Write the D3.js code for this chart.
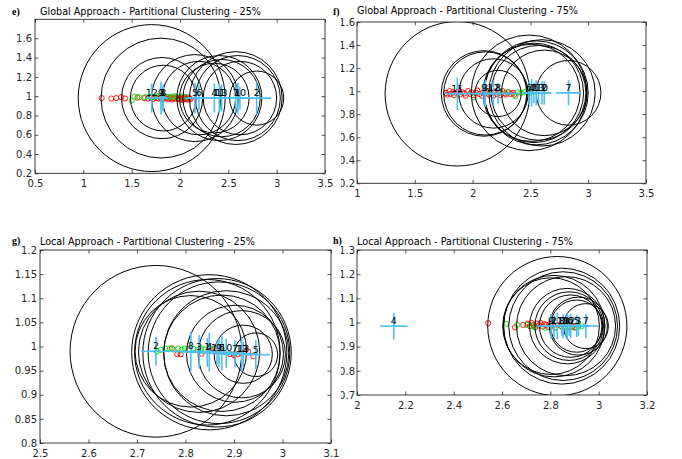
<!DOCTYPE html>
<html><head><meta charset="utf-8">
<script src="https://cdn.jsdelivr.net/npm/d3@7"></script>
<style>body{margin:0;background:#fff}</style>
</head><body>
<svg id="c" width="682" height="459"></svg>
<script>
// ---------- Panel e : Global Approach - 25% ----------
const eLabels = ["12","9","8","3","5","6","4","11","13","7","1","10","2"];
const eCx = [1.707,1.803,1.827,1.815,2.155,2.196,2.355,2.407,2.43,2.577,2.598,2.62,2.793];
const eCy = [0.98,0.98,0.98,0.98,0.98,0.98,0.98,0.98,0.98,0.98,0.98,0.98,0.98];
const eR  = [0.76,0.62,0.34,0.42,0.45,0.38,0.36,0.44,0.40,0.48,0.44,0.38,0.28];
const eEx = [0.06,0.05,0.05,0.04,0.10,0.10,0.12,0.10,0.10,0.12,0.12,0.10,0.15];
const eEy = [0.15,0.17,0.14,0.12,0.16,0.13,0.15,0.16,0.14,0.15,0.16,0.12,0.17];
const eRedX = [1.19,1.29,1.34,1.39,1.43,1.56,1.63,1.67,1.70,1.72,1.74,1.76,1.78,1.80,1.82,1.84,1.86,1.87,1.89,1.90,1.92,1.93,1.95,1.96,1.98,1.99,2.00,2.01,2.02,2.03,2.04,2.05,2.06,2.07,2.08,2.09,2.10,2.11];
const eRedY = [0.98,0.975,0.98,0.99,0.975,0.985,0.98,0.975,0.985,0.97,0.99,0.98,0.975,0.985,0.97,0.98,0.99,0.97,0.975,0.985,0.965,0.98,0.975,0.99,0.97,0.98,0.965,0.985,0.975,0.96,0.98,0.99,0.97,0.98,0.965,0.985,0.975,0.97];
const eGreenX = [1.50,1.53,1.58,1.64,1.69,1.73,1.77,1.79,1.83,1.88,1.91,1.94,1.97,2.02,2.06];
const eGreenY = [0.955,0.995,0.99,0.99,0.995,0.99,1.0,0.995,0.995,0.99,0.995,1.0,0.99,0.995,0.99];
const eXTicks = [0.5,1,1.5,2,2.5,3,3.5];
const eYTicks = [0.2,0.4,0.6,0.8,1,1.2,1.4,1.6];

// ---------- Panel f : Global Approach - 75% ----------
const fLabels = ["11","9","3","12","8","6","4","1","5","13","10","2","7"];
const fCx = [1.868,2.099,2.11,2.18,2.22,2.488,2.51,2.53,2.55,2.57,2.60,2.62,2.83];
const fCy = [0.977,0.98,0.98,0.98,0.98,0.985,0.985,0.985,0.985,0.985,0.985,0.985,0.985];
const fR  = [0.625,0.37,0.36,0.30,0.20,0.50,0.42,0.43,0.45,0.41,0.46,0.37,0.28];
const fEx = [0.10,0.31,0.12,0.15,0.12,0.05,0.07,0.08,0.10,0.09,0.08,0.06,0.11];
const fEy = [0.14,0.10,0.12,0.11,0.09,0.10,0.12,0.09,0.11,0.08,0.10,0.10,0.11];
const fRedX = [1.77,1.78,1.80,1.81,1.83,1.84,1.86,1.88,1.89,1.91,1.93,1.94,1.96,1.98,1.99,2.01,2.03,2.04,2.06,2.08,2.09,2.11,2.13,2.14,2.16,2.18,2.19,2.21,2.23,2.24,2.26,2.28,2.29,2.31,2.33,2.35,2.36];
const fRedY = [0.985,0.97,1.0,0.975,0.99,0.965,0.985,1.005,0.97,0.99,0.98,0.96,1.0,0.975,0.99,0.965,0.985,1.005,0.975,0.96,0.99,0.98,1.0,0.97,0.985,0.96,0.995,0.975,0.985,0.965,1.0,0.98,0.97,0.99,0.975,0.985,0.97];
const fGreenX = [2.01,2.12,2.24,2.30,2.37,2.39,2.42,2.45,2.48,2.50];
const fGreenY = [0.945,0.99,0.995,0.99,0.957,0.99,0.985,0.99,0.99,0.985];
const fXTicks = [1,1.5,2,2.5,3,3.5];
const fYTicks = [0.2,0.4,0.6,0.8,1,1.2,1.4,1.6];

// ---------- Panel g : Local Approach - 25% ----------
const gLabels = ["2","8","3","1","4","11","9","6","10","7","12","13","5"];
const gCx = [2.739,2.811,2.828,2.845,2.849,2.865,2.869,2.875,2.884,2.902,2.916,2.919,2.945];
const gCy = [0.99,0.99,0.989,0.988,0.988,0.987,0.987,0.986,0.986,0.985,0.984,0.984,0.983];
const gR  = [0.177,0.115,0.125,0.15,0.16,0.153,0.146,0.12,0.129,0.10,0.09,0.06,0.045];
const gEx = [0.03,0.04,0.035,0.04,0.05,0.035,0.04,0.03,0.04,0.035,0.04,0.03,0.03];
const gEy = [0.03,0.04,0.035,0.03,0.04,0.025,0.03,0.035,0.03,0.028,0.035,0.025,0.03];
const gRedX = [2.772,2.783,2.79,2.833,2.85,2.862,2.892,2.90,2.908,2.915,2.922,2.929,2.94];
const gRedY = [0.996,0.984,0.984,0.985,0.996,0.99,0.984,0.982,0.984,0.986,0.99,0.99,0.98];
const gGreenX = [2.741,2.749,2.758,2.768,2.775,2.785,2.792,2.799,2.806,2.816,2.826,2.833,2.840,2.855];
const gGreenY = [0.99,0.993,0.996,0.996,0.994,0.996,0.993,0.996,0.994,0.996,0.993,0.996,0.994,0.995];
const gXTicks = [2.5,2.6,2.7,2.8,2.9,3,3.1];
const gYTicks = [0.8,0.85,0.9,0.95,1,1.05,1.1,1.15,1.2];

// ---------- Panel h : Local Approach - 75% ----------
const hLabels = ["4","9","2","11","8","13","1","10","12","6","5","3","7"];
const hCx = [2.152,2.803,2.815,2.829,2.847,2.853,2.865,2.87,2.878,2.884,2.909,2.916,2.947];
const hCy = [0.985,0.985,0.985,0.985,0.985,0.985,0.985,0.985,0.985,0.985,0.985,0.985,0.985];
const hR  = [0,0.20,0.21,0.288,0.24,0.225,0.205,0.156,0.142,0.129,0.108,0.12,0.093];
const hEx = [0.057,0.056,0.05,0.06,0.05,0.045,0.05,0.04,0.05,0.045,0.05,0.05,0.053];
const hEy = [0.055,0.05,0.045,0.055,0.04,0.05,0.045,0.055,0.04,0.05,0.045,0.04,0.05];
const hRedX = [2.543,2.654,2.688,2.707,2.715,2.722,2.73,2.738,2.745,2.752,2.76,2.768,2.775,2.783,2.79,2.80,2.81,2.82,2.83,2.845,2.86,2.875,2.89,2.905];
const hRedY = [0.997,0.98,0.99,0.995,0.985,0.998,0.99,0.982,0.995,0.988,0.998,0.983,0.993,0.99,0.982,0.995,0.988,0.98,0.99,0.985,0.98,0.985,0.982,0.98];
const hGreenX = [2.617,2.663,2.702,2.72,2.735,2.78,2.82,2.85,2.88,2.90,2.915,2.93];
const hGreenY = [0.995,0.99,0.99,0.985,0.98,0.978,0.978,0.98,0.98,0.978,0.982,0.985];
const hXTicks = [2,2.2,2.4,2.6,2.8,3,3.2];
const hYTicks = [0.7,0.8,0.9,1,1.1,1.2,1.3];

const titles = ["Global Approach - Partitional Clustering - 25%","Global Approach - Partitional Clustering - 75%","Local Approach - Partitional Clustering - 25%","Local Approach - Partitional Clustering - 75%"];
const panelTags = ["e)","f)","g)","h)"];

// ---------- drawing ----------
const svg = d3.select('#c');
const AX = '#262626', CYAN = '#4DBEEE', RED = '#ff0000', GREEN = '#00e000';
const FONT = 'DejaVu Sans, Verdana, sans-serif';

const panels = [
  {id:'e', left:35, right:325, top:19.3, bottom:173.3, xd:[0.5,3.5], yd:[0.2,1.797], title:titles[0], tag:panelTags[0], tx:40, ty:15, tw:221, tagx:12, tagy:15, clipLeft:false, pad:3,
   labels:eLabels, cx:eCx, cy:eCy, r:eR, ex:eEx, ey:eEy, rx:eRedX, ry:eRedY, gx:eGreenX, gy:eGreenY, xt:eXTicks, yt:eYTicks},
  {id:'f', left:357, right:646, top:22, bottom:183.3, xd:[1,3.5], yd:[0.2,1.6], title:titles[1], tag:panelTags[1], tx:357, ty:14, tw:221, tagx:333, tagy:15, clipLeft:true, pad:2,
   labels:fLabels, cx:fCx, cy:fCy, r:fR, ex:fEx, ey:fEy, rx:fRedX, ry:fRedY, gx:fGreenX, gy:fGreenY, xt:fXTicks, yt:fYTicks},
  {id:'g', left:40, right:331, top:250, bottom:443, xd:[2.5,3.1], yd:[0.8,1.2], title:titles[2], tag:panelTags[2], tx:40, ty:245, tw:215, tagx:12, tagy:244, clipLeft:false, pad:3,
   labels:gLabels, cx:gCx, cy:gCy, r:gR, ex:gEx, ey:gEy, rx:gRedX, ry:gRedY, gx:gGreenX, gy:gGreenY, xt:gXTicks, yt:gYTicks},
  {id:'h', left:357, right:647, top:250, bottom:395, xd:[2,3.2], yd:[0.7,1.3], title:titles[3], tag:panelTags[3], tx:357, ty:245, tw:216, tagx:333, tagy:244, clipLeft:true, pad:2,
   labels:hLabels, cx:hCx, cy:hCy, r:hR, ex:hEx, ey:hEy, rx:hRedX, ry:hRedY, gx:hGreenX, gy:hGreenY, xt:hXTicks, yt:hYTicks}
];

const defs = svg.append('defs');
defs.append('clipPath').attr('id','rightHalf').append('rect').attr('x',341).attr('y',0).attr('width',341).attr('height',459);

const fmt = d3.format('~g');

function styleAxis(sel, fontSize) {
  sel.select('.domain').remove();
  sel.selectAll('.tick line').attr('stroke', AX).attr('stroke-width', 0.8);
  sel.selectAll('.tick text').attr('fill', AX).attr('font-family', FONT).attr('font-size', fontSize);
}

panels.forEach(p => {
  const x = d3.scaleLinear().domain(p.xd).range([p.left, p.right]);
  const y = d3.scaleLinear().domain(p.yd).range([p.bottom, p.top]);
  const g = svg.append('g');

  defs.append('clipPath').attr('id', 'clip' + p.id).append('rect')
    .attr('x', p.left).attr('y', p.top).attr('width', p.right - p.left).attr('height', p.bottom - p.top);

  const plot = g.append('g').attr('clip-path', `url(#clip${p.id})`);

  // data points
  plot.selectAll('circle.red').data(d3.zip(p.rx, p.ry)).join('circle')
    .attr('cx', d => x(d[0])).attr('cy', d => y(d[1])).attr('r', 2.6)
    .attr('fill', 'none').attr('stroke', RED).attr('stroke-width', 0.9);
  plot.selectAll('circle.grn').data(d3.zip(p.gx, p.gy)).join('circle')
    .attr('cx', d => x(d[0])).attr('cy', d => y(d[1])).attr('r', 2.6)
    .attr('fill', 'none').attr('stroke', GREEN).attr('stroke-width', 0.9);

  const clusters = p.labels.map((l, i) => ({l, cx: p.cx[i], cy: p.cy[i], r: p.r[i], ex: p.ex[i], ey: p.ey[i]}));

  // cluster circles (data units, equal aspect)
  plot.selectAll('circle.cl').data(clusters.filter(d => d.r > 0)).join('circle')
    .attr('cx', d => x(d.cx)).attr('cy', d => y(d.cy))
    .attr('r', d => x(d.cx + d.r) - x(d.cx))
    .attr('fill', 'none').attr('stroke', '#000').attr('stroke-width', 1);

  // crosses
  plot.selectAll('line.h').data(clusters).join('line')
    .attr('x1', d => x(d.cx - d.ex)).attr('x2', d => x(d.cx + d.ex))
    .attr('y1', d => y(d.cy)).attr('y2', d => y(d.cy))
    .attr('stroke', CYAN).attr('stroke-width', 1.6);
  plot.selectAll('line.v').data(clusters).join('line')
    .attr('x1', d => x(d.cx)).attr('x2', d => x(d.cx))
    .attr('y1', d => y(d.cy - d.ey)).attr('y2', d => y(d.cy + d.ey))
    .attr('stroke', CYAN).attr('stroke-width', 1.6);

  // labels
  plot.selectAll('text.lab').data(clusters).join('text')
    .attr('x', d => x(d.cx)).attr('y', d => y(d.cy) - 2)
    .attr('text-anchor', 'middle').attr('font-family', FONT).attr('font-size', 9.5)
    .attr('fill', '#000').text(d => d.l);

  // axes
  const axB = g.append('g').attr('transform', `translate(0,${p.bottom})`)
    .call(d3.axisBottom(x).tickValues(p.xt).tickFormat(fmt).tickSizeInner(-3.5).tickSizeOuter(0).tickPadding(7));
  styleAxis(axB, 10);
  const axT = g.append('g').attr('transform', `translate(0,${p.top})`)
    .call(d3.axisTop(x).tickValues(p.xt).tickFormat('').tickSizeInner(-3.5).tickSizeOuter(0));
  styleAxis(axT, 10);
  const leftWrap = g.append('g');
  if (p.clipLeft) leftWrap.attr('clip-path', 'url(#rightHalf)');
  const axL = leftWrap.append('g').attr('transform', `translate(${p.left},0)`)
    .call(d3.axisLeft(y).tickValues(p.yt).tickFormat(fmt).tickSizeInner(-3.5).tickSizeOuter(0).tickPadding(p.pad));
  styleAxis(axL, 10);
  const axR = g.append('g').attr('transform', `translate(${p.right},0)`)
    .call(d3.axisRight(y).tickValues(p.yt).tickFormat('').tickSizeInner(-3.5).tickSizeOuter(0));
  styleAxis(axR, 10);

  g.append('rect').attr('x', p.left).attr('y', p.top)
    .attr('width', p.right - p.left).attr('height', p.bottom - p.top)
    .attr('fill', 'none').attr('stroke', AX).attr('stroke-width', 0.9);

  // title
  g.append('text').attr('x', p.tx).attr('y', p.ty)
    .attr('font-family', FONT).attr('font-size', 11).attr('fill', '#000')
    .attr('textLength', p.tw).attr('lengthAdjust', 'spacingAndGlyphs')
    .text(p.title);

  // panel tag
  svg.append('text').attr('x', p.tagx).attr('y', p.tagy)
    .attr('font-family', 'Liberation Serif, Times New Roman, serif').attr('font-weight', 'bold')
    .attr('font-size', 10).attr('fill', '#000').text(p.tag);
});
</script>
</body></html>
